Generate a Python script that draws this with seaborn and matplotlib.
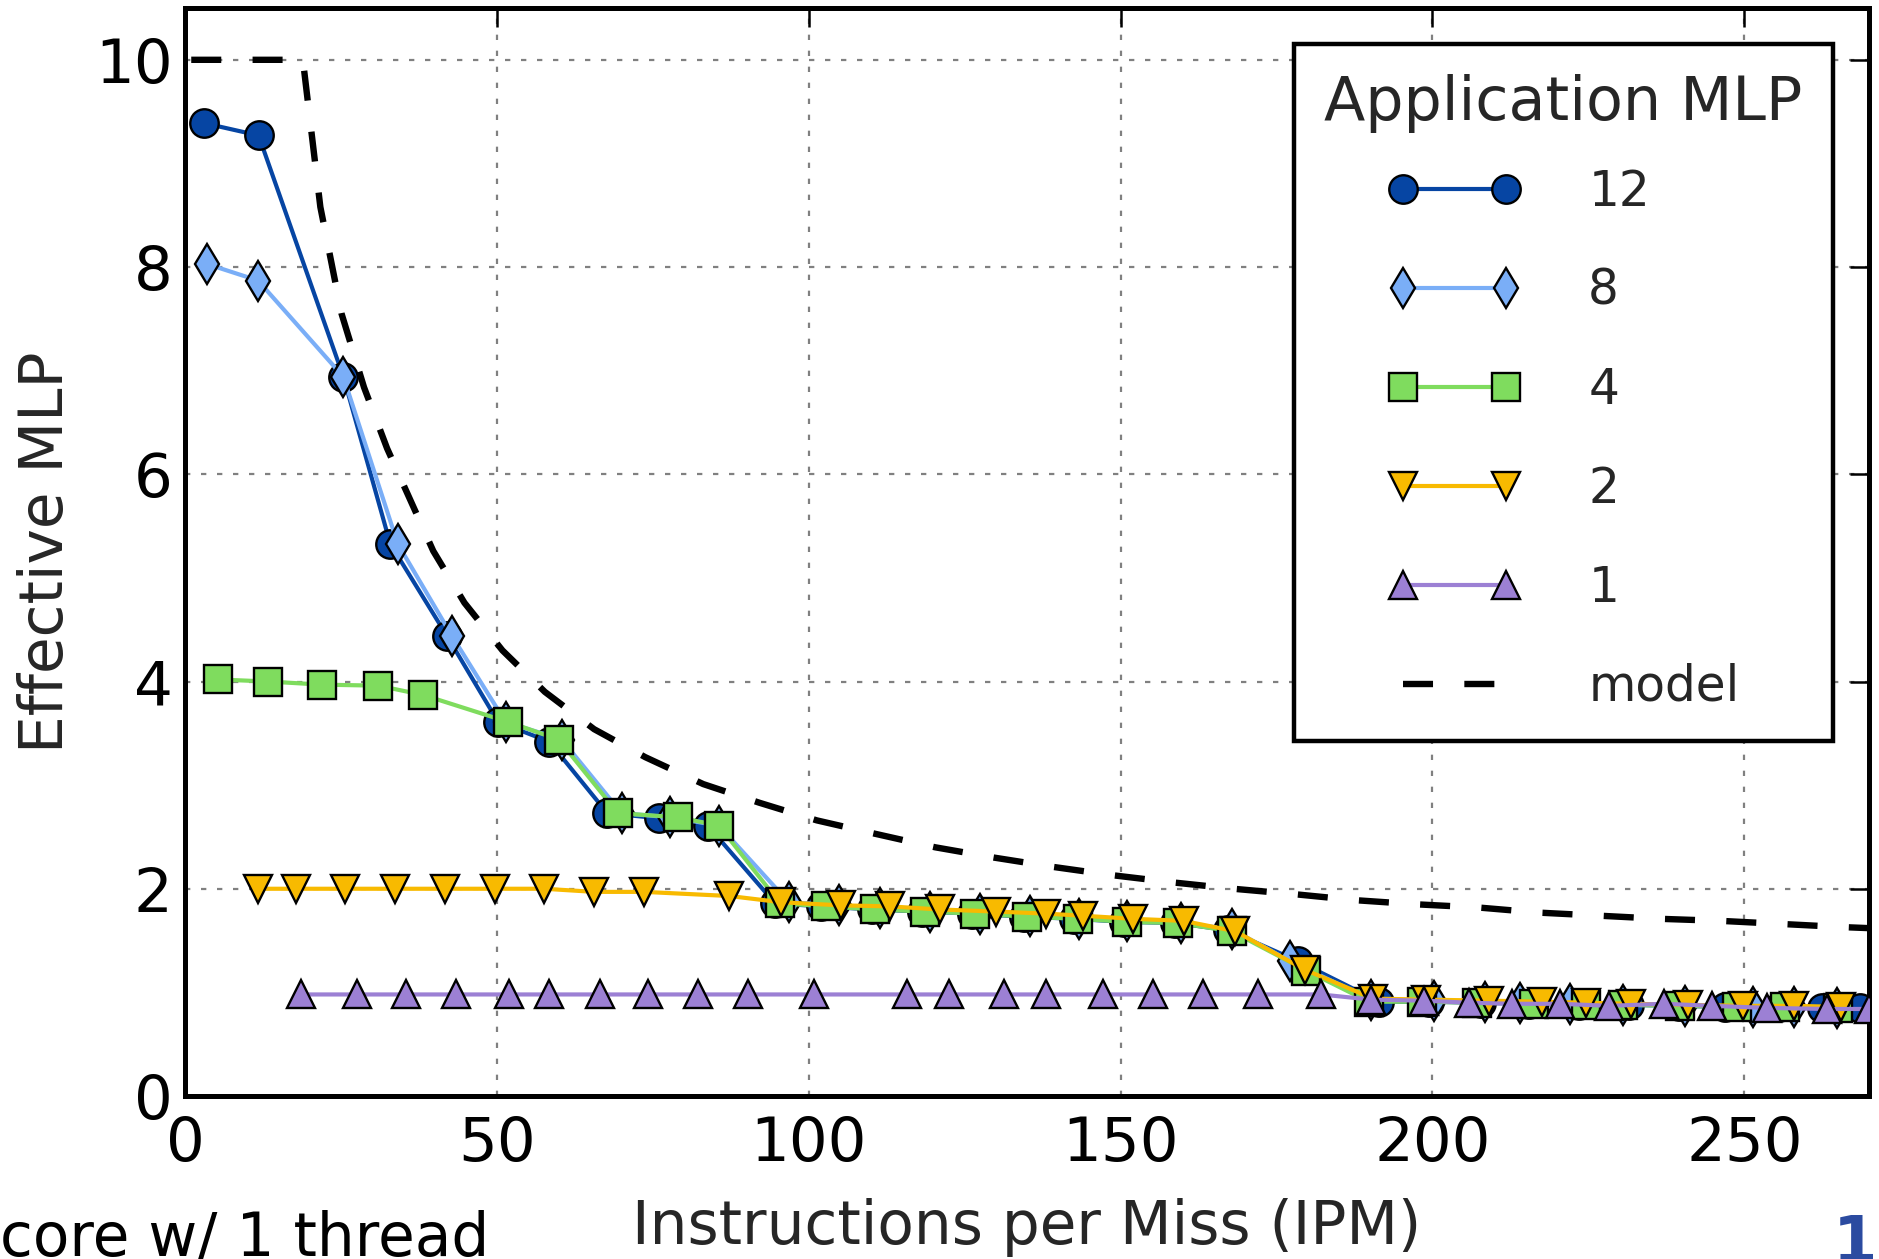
import matplotlib
matplotlib.use("Agg")
import matplotlib.pyplot as plt
import seaborn as sns
import pandas as pd

# ---------------- data ----------------
x12 = [3.0, 11.8, 25.4, 32.9, 42.0, 50.2, 58.4, 67.7, 76.0, 83.8, 94.6, 102.0, 110.2, 118.2,
       126.2, 134.5, 142.6, 150.6, 158.8, 167.2, 178.5, 191.5, 199.5, 207.8, 215.5, 223.5,
       231.5, 239.5, 246.9, 255.5, 262.5, 268.5]
y12 = [9.39, 9.27, 6.94, 5.33, 4.44, 3.61, 3.42, 2.73, 2.68, 2.61, 1.86, 1.83, 1.80, 1.78,
       1.76, 1.73, 1.71, 1.68, 1.67, 1.60, 1.30, 0.91, 0.91, 0.90, 0.89, 0.88,
       0.88, 0.87, 0.86, 0.86, 0.85, 0.85]

x8 = [3.5, 11.7, 25.4, 34.1, 42.8, 51.4, 60.4, 70.0, 77.7, 85.6, 96.8, 104.8, 111.5, 119.5,
      127.5, 135.5, 143.3, 151.0, 159.7, 167.8, 177.2, 190.2, 200.3, 208.5, 214.0, 222.1,
      230.6, 240.5, 251.4, 257.9, 264.8]
y8 = [8.03, 7.87, 6.94, 5.33, 4.44, 3.61, 3.44, 2.73, 2.69, 2.61, 1.87, 1.84, 1.81, 1.78,
      1.76, 1.74, 1.71, 1.69, 1.67, 1.61, 1.30, 0.93, 0.92, 0.91, 0.90, 0.89,
      0.88, 0.87, 0.86, 0.86, 0.85]

x4 = [5.3, 13.3, 21.9, 31.0, 38.2, 51.8, 59.9, 69.4, 79.0, 85.6, 95.4, 102.8, 110.7, 118.7,
      126.7, 135.0, 143.1, 151.1, 159.2, 167.8, 179.8, 189.8, 198.4, 207.2, 216.3, 224.7,
      230.6, 239.7, 248.8, 256.6, 265.1]
y4 = [4.02, 4.00, 3.97, 3.96, 3.87, 3.61, 3.44, 2.73, 2.69, 2.61, 1.86, 1.83, 1.80, 1.78,
      1.76, 1.73, 1.71, 1.68, 1.67, 1.59, 1.21, 0.91, 0.91, 0.90, 0.89, 0.88,
      0.88, 0.87, 0.86, 0.86, 0.85]

x2 = [11.7, 17.8, 25.7, 33.7, 41.7, 49.7, 57.6, 65.6, 73.6, 87.3, 95.6, 105.1, 113.0, 121.0,
      130.1, 138.1, 143.9, 152.0, 160.1, 168.4, 179.5, 190.5, 199.0, 209.1, 217.6, 224.7,
      231.9, 241.0, 249.8, 257.9, 265.5]
y2 = [2.00, 2.00, 2.00, 2.00, 2.00, 2.00, 2.00, 1.97, 1.97, 1.93, 1.87, 1.84, 1.83, 1.80,
      1.78, 1.76, 1.74, 1.71, 1.69, 1.59, 1.22, 0.94, 0.93, 0.92, 0.91, 0.90,
      0.89, 0.88, 0.87, 0.87, 0.86]

x1 = [18.6, 27.5, 35.5, 43.5, 52.0, 58.3, 66.5, 74.2, 82.2, 90.3, 100.8, 115.7, 122.5, 131.3,
      138.0, 147.2, 155.2, 163.2, 172.1, 182.1, 190.2, 198.6, 205.9, 212.7, 220.5, 228.3,
      237.1, 244.9, 253.7, 263.2, 270.0]
y1 = [0.98, 0.98, 0.98, 0.98, 0.98, 0.98, 0.98, 0.98, 0.98, 0.98, 0.98, 0.98, 0.98, 0.98,
      0.98, 0.98, 0.98, 0.98, 0.98, 0.98, 0.93, 0.92, 0.90, 0.89, 0.89, 0.87,
      0.89, 0.87, 0.85, 0.84, 0.84]

model_x = [1, 18.9, 21.7, 25.1, 28.7, 32.4, 39.8, 44.8, 50.9, 57.7, 65.6, 73.8, 83.1, 92.1,
           101.3, 110.7, 120.3, 129.8, 139.3, 148.8, 158.6, 168.1, 177.5, 187.6, 197.4,
           207.2, 217.0, 226.8, 236.5, 246.3, 256.1, 265.8, 270]
model_y = [10, 10, 8.58, 7.55, 6.84, 6.25, 5.26, 4.76, 4.30, 3.90, 3.54, 3.27, 3.01, 2.83,
           2.66, 2.53, 2.40, 2.30, 2.21, 2.13, 2.06, 2.00, 1.95, 1.89, 1.85,
           1.82, 1.77, 1.74, 1.71, 1.69, 1.66, 1.63, 1.62]

series_labels = ["12", "8", "4", "2", "1"]
series_x = [x12, x8, x4, x2, x1]
series_y = [y12, y8, y4, y2, y1]
series_colors = ["#0645A3", "#7AAEF7", "#7FDC5E", "#F8BA00", "#9C80D4"]
series_markers = ["o", "d", "s", "v", "^"]

xticks = [0, 50, 100, 150, 200, 250]
yticks = [0, 2, 4, 6, 8, 10]

# ---------------- style ----------------
sns.set_style("white")
plt.rcParams["font.family"] = ["DejaVu Sans"]

fig = plt.figure(figsize=(18.79, 12.59), dpi=100)
ax = fig.add_axes([185 / 1879, 1 - 1096 / 1259, (1869 - 185) / 1879, (1096 - 8) / 1259])

for lab, xs, ys, col, mk in zip(series_labels, series_x, series_y, series_colors, series_markers):
    df = pd.DataFrame({"x": xs, "y": ys})
    sns.lineplot(data=df, x="x", y="y", ax=ax, color=col, marker=mk, markersize=20.5,
                 markeredgecolor="black", markeredgewidth=1.7, linewidth=3.0,
                 estimator=None, sort=False, legend=False, label=lab)

dfm = pd.DataFrame({"x": model_x, "y": model_y})
sns.lineplot(data=dfm, x="x", y="y", ax=ax, color="black", linewidth=4.6,
             linestyle=(0, (4.7, 4.9)), estimator=None, sort=False, legend=False,
             label="model")

ax.set_xlim(0, 270)
ax.set_ylim(0, 10.5)
ax.set_xticks(xticks)
ax.set_yticks(yticks)
ax.set_xticklabels([str(v) for v in xticks])
ax.set_yticklabels([str(v) for v in yticks])

ax.grid(True, color="#808080", linestyle=(0, (2.4, 4.8)), linewidth=1.6)
for sp in ax.spines.values():
    sp.set_visible(True)
    sp.set_color("black")
    sp.set_linewidth(3.6)
    sp.set_zorder(1)

ax.tick_params(axis="both", which="major", direction="in", length=14, width=1.8,
               top=True, right=True, labelsize=44, colors="black")
ax.tick_params(axis="x", pad=14)
ax.tick_params(axis="y", pad=9)

ax.set_xlabel("Instructions per Miss (IPM)", fontsize=43)
ax.set_ylabel("Effective MLP", fontsize=43)
ax.xaxis.set_label_coords(0.5, -0.094)
ax.yaxis.set_label_coords(-0.0647, 0.5)

handles = ax.get_lines()
leg_handles = [h for h in handles if h.get_label() in series_labels + ["model"]]
leg = ax.legend(handles=leg_handles, labels=[h.get_label() for h in leg_handles],
                title="Application MLP", loc="upper right",
                bbox_to_anchor=(0.9786, 0.967), borderaxespad=0, numpoints=2,
                fontsize=35, title_fontsize=43.5, frameon=True, fancybox=False,
                handlelength=2.72, handletextpad=1.4, labelspacing=1.05,
                borderpad=0.62, framealpha=1)
leg._legend_box.sep = 25
leg.get_frame().set_edgecolor("black")
leg.get_frame().set_linewidth(3.2)
leg.set_zorder(10)

# slide remnants around the cropped figure
fig.text(0.0, 1 - 1256 / 1259, "core w/ 1 thread", fontsize=43, ha="left", va="baseline",
         color="black")
fig.text(1833 / 1879, 1 - 1262 / 1259, "18", fontsize=46, ha="left", va="baseline",
         color="#2B4BA0", fontweight="bold")

fig.savefig("out.png", dpi=100)
